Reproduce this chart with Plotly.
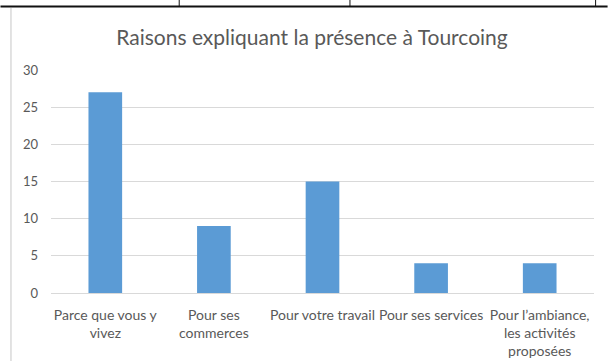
import plotly.graph_objects as go

categories = ["Parce que vous y<br>vivez", "Pour ses<br>commerces", "Pour votre travail",
              "Pour ses services", "Pour l’ambiance,<br>les activités<br>proposées"]
values = [27, 9, 15, 4, 4]
y_ticks = [0, 5, 10, 15, 20, 25, 30]
title_text = "Raisons expliquant la présence à Tourcoing"

W, H = 608, 361
L, R, T, B = 50.6, 594.4, 70, 293

def px(x):
    return (x - L) / (R - L)

def py(y):
    return (B - y) / (B - T)

fig = go.Figure(go.Bar(x=categories, y=values, marker=dict(color="#5b9bd5", line=dict(width=0)),
                       width=0.31))

text_col = "#595959"
fig.update_layout(
    width=W, height=H,
    margin=dict(l=L, r=W - R, t=T, b=H - B, pad=0, autoexpand=False),
    paper_bgcolor="white", plot_bgcolor="white",
    font=dict(family="Lato", color=text_col, size=14),
    showlegend=False,
    title=dict(text=title_text, x=312 / W, xanchor="center", y=1 - 38 / H, yanchor="middle",
               font=dict(family="Lato", size=21, color=text_col)),
    xaxis=dict(showgrid=False, showline=True, linecolor="#d9d9d9", linewidth=1,
               ticks="", tickfont=dict(size=14, color=text_col), ticklabelstandoff=9,
               range=[-0.5, 4.5], automargin=False),
    yaxis=dict(range=[0, 30], tickvals=y_ticks, showgrid=True, gridcolor="#d9d9d9", gridwidth=1,
               zeroline=False, showline=False, ticks="", tickfont=dict(size=13, color=text_col),
               ticklabelstandoff=12, automargin=False),
    shapes=[
        dict(type="line", xref="paper", yref="paper", x0=px(10.5), x1=px(10.5),
             y0=py(8), y1=py(H + 5), line=dict(color="#d9d9d9", width=1.5)),
        dict(type="line", xref="paper", yref="paper", x0=px(0), x1=px(W),
             y0=py(6.5), y1=py(6.5), line=dict(color="#111111", width=2)),
        dict(type="line", xref="paper", yref="paper", x0=px(179), x1=px(179),
             y0=py(0), y1=py(6.5), line=dict(color="#111111", width=1)),
        dict(type="line", xref="paper", yref="paper", x0=px(350), x1=px(350),
             y0=py(0), y1=py(6.5), line=dict(color="#111111", width=1)),
        dict(type="line", xref="paper", yref="paper", x0=px(596), x1=px(596),
             y0=py(0), y1=py(6.5), line=dict(color="#111111", width=1)),
    ],
)

fig.write_html("out.html", config={"displayModeBar": False},
               post_script="document.body.style.margin='0';document.body.style.padding='0';")
